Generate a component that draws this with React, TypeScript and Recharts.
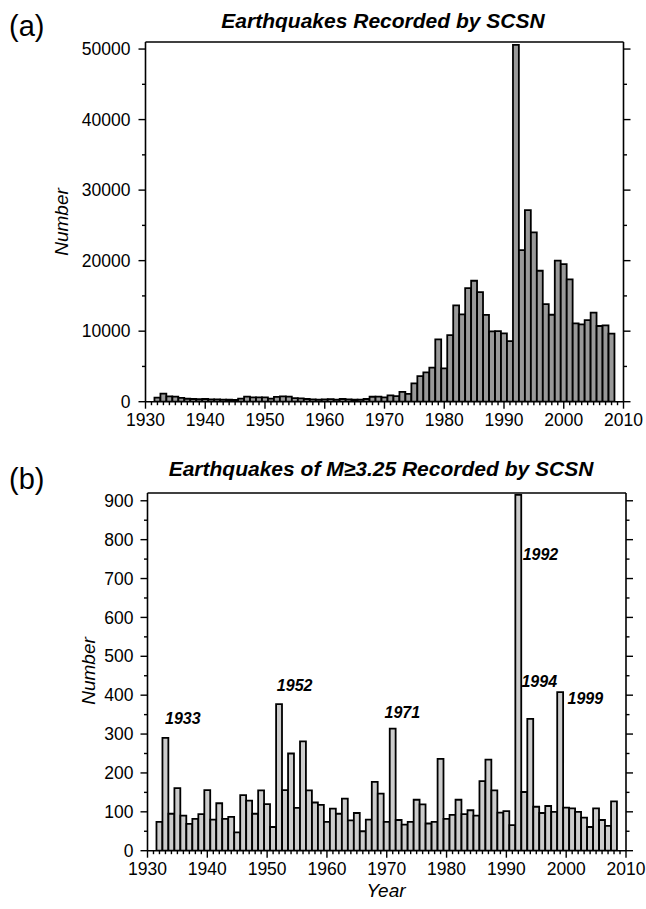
import React from 'react';
import { BarChart, Bar, XAxis, YAxis, ReferenceDot } from 'recharts';

// ---------- data ----------
const years = [
  1932, 1933, 1934, 1935, 1936, 1937, 1938, 1939,
  1940, 1941, 1942, 1943, 1944, 1945, 1946, 1947, 1948, 1949,
  1950, 1951, 1952, 1953, 1954, 1955, 1956, 1957, 1958, 1959,
  1960, 1961, 1962, 1963, 1964, 1965, 1966, 1967, 1968, 1969,
  1970, 1971, 1972, 1973, 1974, 1975, 1976, 1977, 1978, 1979,
  1980, 1981, 1982, 1983, 1984, 1985, 1986, 1987, 1988, 1989,
  1990, 1991, 1992, 1993, 1994, 1995, 1996, 1997, 1998, 1999,
  2000, 2001, 2002, 2003, 2004, 2005, 2006, 2007, 2008,
];

const allCounts = [
  580, 1150, 750, 720, 550, 420, 380, 350,
  380, 330, 330, 300, 280, 260, 450, 720, 620, 600,
  620, 430, 680, 750, 720, 520, 480, 380, 330, 300,
  330, 360, 300, 380, 330, 280, 300, 380, 700, 720,
  600, 900, 800, 1400, 1100, 2600, 3640, 4160, 4820, 8840,
  4725, 9450, 13650, 12380, 16100, 17150, 15550, 12300, 9970, 10020,
  9690, 8600, 50600, 21500, 27170, 24000, 18570, 13840, 12330, 19990,
  19510, 17340, 11100, 10960, 11580, 12620, 10730, 10820, 9640,
];

const m325Counts = [
  74, 290, 95, 161, 90, 69, 82, 94,
  156, 80, 122, 82, 87, 47, 143, 129, 95, 155,
  120, 61, 377, 156, 250, 110, 281, 155, 124, 118,
  74, 108, 95, 134, 78, 97, 50, 80, 177, 147,
  74, 314, 79, 67, 74, 131, 119, 70, 74, 236,
  82, 92, 131, 94, 104, 90, 179, 234, 155, 98,
  102, 66, 915, 151, 339, 113, 97, 115, 100, 408,
  111, 109, 100, 85, 61, 109, 79, 64, 127,
];

const decadeLabels = [1930, 1940, 1950, 1960, 1970, 1980, 1990, 2000, 2010];
const topYTicks = [0, 5000, 10000, 15000, 20000, 25000, 30000, 35000, 40000, 45000, 50000];
const bottomYTicks = [0, 50, 100, 150, 200, 250, 300, 350, 400, 450, 500, 550, 600, 650, 700, 750, 800, 850, 900];

// annotation labels (year text, anchor in data units)
const annotationLabels = ['1933', '1952', '1971', '1992', '1994', '1999'];
const annotationX = [1935.9, 1954.6, 1972.6, 1995.7, 1995.5, 2003.2];
const annotationY = [340, 425, 355, 763, 436, 391];

// ---------- derived ----------
const yearTicks = Array.from({ length: 81 }, (_, i) => 1930 + i);
const topData = years.map((y, i) => ({ year: y, count: allCounts[i] }));
const bottomData = years.map((y, i) => ({ year: y, count: m325Counts[i] }));

const FONT = '"Liberation Sans", Arial, Helvetica, sans-serif';
const TICK_W = 1.4;

const makeYTick = (side: 'left' | 'right', majorStep: number, gap: number) => (props: any) => {
  const { x, y, payload } = props;
  const v = payload.value;
  const major = v % majorStep === 0;
  const len = major ? 7 : 3.5;
  const dir = side === 'left' ? -1 : 1;
  return (
    <g>
      <line x1={x} x2={x + dir * len} y1={y} y2={y} stroke="#000" strokeWidth={TICK_W} />
      {side === 'left' && major && (
        <text x={x - gap} y={y} dy="0.35em" textAnchor="end" fontSize={17.5} fontFamily={FONT} fill="#000">
          {v}
        </text>
      )}
    </g>
  );
};

const makeXTick = (side: 'top' | 'bottom') => (props: any) => {
  const { x, y, payload } = props;
  const v = payload.value;
  const major = v % 10 === 0;
  const len = major ? 7 : 3.5;
  const dir = side === 'bottom' ? 1 : -1;
  return (
    <g>
      <line x1={x} x2={x} y1={y} y2={y + dir * len} stroke="#000" strokeWidth={TICK_W} />
      {side === 'bottom' && major && decadeLabels.includes(v) && (
        <text x={x} y={y + 18} dy="0.35em" textAnchor="middle" fontSize={17.5} fontFamily={FONT} fill="#000">
          {v}
        </text>
      )}
    </g>
  );
};

const axisLine = { stroke: '#000', strokeWidth: 1.6 };

function Panel(props: {
  data: any[];
  height: number;
  margin: any;
  leftW: number;
  rightW: number;
  yMax: number;
  yTicks: number[];
  majorStep: number;
  labelGap: number;
  fill: string;
  annotate?: boolean;
}) {
  const { data, height, margin, leftW, rightW, yMax, yTicks, majorStep, labelGap, fill, annotate } = props;
  return (
    <BarChart width={646} height={height} data={data} margin={margin} barCategoryGap={0} barGap={0}>
      <XAxis
        dataKey="year"
        type="number"
        domain={[1930, 2010]}
        allowDataOverflow
        ticks={yearTicks}
        interval={0}
        tickSize={0}
        tickMargin={0}
        height={40}
        axisLine={axisLine}
        tickLine={false}
        tick={makeXTick('bottom')}
      />
      <XAxis
        xAxisId="top"
        orientation="top"
        type="number"
        domain={[1930, 2010]}
        allowDataOverflow
        ticks={yearTicks}
        interval={0}
        tickSize={0}
        tickMargin={0}
        height={10}
        axisLine={axisLine}
        tickLine={false}
        tick={makeXTick('top')}
      />
      <YAxis
        type="number"
        domain={[0, yMax]}
        allowDataOverflow
        ticks={yTicks}
        interval={0}
        tickSize={0}
        tickMargin={0}
        width={leftW}
        axisLine={axisLine}
        tickLine={false}
        tick={makeYTick('left', majorStep, labelGap)}
      />
      <YAxis
        yAxisId="right"
        orientation="right"
        type="number"
        domain={[0, yMax]}
        allowDataOverflow
        ticks={yTicks}
        interval={0}
        tickSize={0}
        tickMargin={0}
        width={rightW}
        axisLine={axisLine}
        tickLine={false}
        tick={makeYTick('right', majorStep, labelGap)}
      />
      <Bar dataKey="count" fill={fill} stroke="#000" strokeWidth={1.8} barSize={5.9} isAnimationActive={false} />
      {annotate &&
        annotationLabels.map((t, i) => (
          <ReferenceDot
            key={t}
            x={annotationX[i]}
            y={annotationY[i]}
            r={1}
            ifOverflow="visible"
            shape={(p: any) => (
              <text
                x={p.cx}
                y={p.cy}
                dy="0.35em"
                textAnchor="middle"
                fontSize={16}
                fontWeight="bold"
                fontStyle="italic"
                fontFamily={FONT}
                fill="#000"
              >
                {t}
              </text>
            )}
          />
        ))}
    </BarChart>
  );
}

export default function App() {
  return (
    <div style={{ position: 'absolute', left: 0, top: 0, width: 646, height: 909, background: '#fff', fontFamily: FONT }}>
      <div style={{ position: 'absolute', left: 0, top: 0 }}>
        <Panel
          data={topData}
          height={450}
          margin={{ top: 32, right: 0, bottom: 8.3, left: 0 }}
          leftW={145.5}
          rightW={22.5}
          yMax={51000}
          yTicks={topYTicks}
          majorStep={10000}
          labelGap={15}
          fill="#999999"
        />
      </div>
      <div style={{ position: 'absolute', left: 0, top: 450 }}>
        <Panel
          data={bottomData}
          height={459}
          margin={{ top: 33, right: 0, bottom: 18.3, left: 0 }}
          leftW={147.5}
          rightW={20}
          yMax={920}
          yTicks={bottomYTicks}
          majorStep={100}
          labelGap={14}
          fill="#cccccc"
          annotate
        />
      </div>
      <svg width={646} height={909} style={{ position: 'absolute', left: 0, top: 0, pointerEvents: 'none' }}>
        <text x={9} y={36} fontSize={29} fontFamily={FONT} fill="#000">(a)</text>
        <text x={9} y={489} fontSize={29} fontFamily={FONT} fill="#000">(b)</text>
        <text x={383} y={28} textAnchor="middle" fontSize={21} fontWeight="bold" fontStyle="italic" fontFamily={FONT} fill="#000">
          Earthquakes Recorded by SCSN
        </text>
        <text x={381} y={476} textAnchor="middle" fontSize={21} fontWeight="bold" fontStyle="italic" fontFamily={FONT} fill="#000">
          Earthquakes of M≥3.25 Recorded by SCSN
        </text>
        <text x={68} y={222} transform="rotate(-90 68 222)" textAnchor="middle" fontSize={19} fontStyle="italic" fontFamily={FONT} fill="#000">
          Number
        </text>
        <text x={95} y={671} transform="rotate(-90 95 671)" textAnchor="middle" fontSize={19} fontStyle="italic" fontFamily={FONT} fill="#000">
          Number
        </text>
        <text x={386} y={897} textAnchor="middle" fontSize={19} fontStyle="italic" fontFamily={FONT} fill="#000">
          Year
        </text>
      </svg>
    </div>
  );
}
